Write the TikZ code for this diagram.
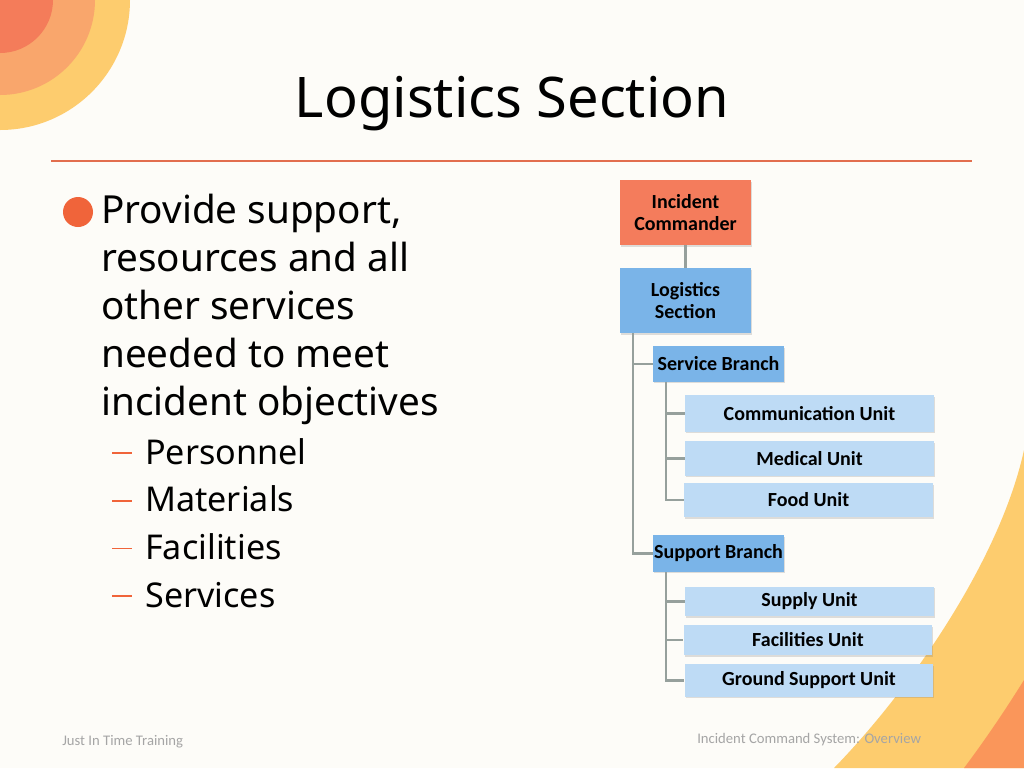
\documentclass[tikz,border=0pt]{standalone}
\usepackage{fontspec}
\setmainfont{Noto Sans}
\newfontfamily\boxfont{Carlito}
\usepackage{xcolor}
\usepackage{tikz}
\usetikzlibrary{positioning,shadows}

\definecolor{paper}{RGB}{253,252,248}
\definecolor{ringin}{RGB}{244,124,90}
\definecolor{ringmid}{RGB}{249,166,108}
\definecolor{ringout}{RGB}{253,204,110}
\definecolor{cornerorange}{RGB}{250,150,90}
\definecolor{rulered}{RGB}{226,110,78}
\definecolor{dotred}{RGB}{240,100,58}
\definecolor{icred}{RGB}{244,124,92}
\definecolor{lsblue}{RGB}{122,180,232}
\definecolor{unitblue}{RGB}{190,219,245}
\definecolor{linkgray}{RGB}{150,160,156}
\definecolor{footgray}{RGB}{165,165,165}

\tikzset{
  orgbox/.style={draw=none, inner sep=0pt, align=center,
    font=\boxfont\bfseries\fontsize{15}{16}\selectfont,
    drop shadow={opacity=0.25, shadow xshift=0.8pt, shadow yshift=-1.2pt}},
  topbox/.style={orgbox, minimum width=98.25pt, minimum height=48.75pt},
  branchbox/.style={orgbox, fill=lsblue, minimum width=98.25pt, minimum height=26.5pt},
  unitbox/.style={orgbox, fill=unitblue, minimum width=186.5pt},
  conn/.style={draw=linkgray, line width=1.8pt},
  bigtext/.style={anchor=base west, inner sep=0pt, font=\fontsize{29}{32}\selectfont},
  subtext/.style={anchor=base west, inner sep=0pt, font=\fontsize{25.6}{30}\selectfont},
  dashmark/.style={anchor=base west, inner sep=0pt, text=dotred, font=\fontsize{25.6}{30}\selectfont},
  foot/.style={anchor=base west, inner sep=0pt, text=footgray, font=\boxfont\fontsize{11}{12}\selectfont}
}

\begin{document}
\begin{tikzpicture}[x=0.75pt,y=-0.75pt]
% page and corner shapes
\fill[paper] (0,0) rectangle (1024,768);
\useasboundingbox (0,0) rectangle (1024,768);
\fill[ringout] (0,0) circle (130);
\fill[ringmid] (0,0) circle (95);
\fill[ringin] (0,0) circle (53);
\fill[ringout] (1024,450) .. controls (1000,560) and (910,690) .. (834,768) -- (1024,768) -- cycle;
\fill[cornerorange] (1024,680) .. controls (1004,712) and (985,740) .. (964,768) -- (1024,768) -- cycle;

% title
\node[anchor=base, inner sep=0pt, font=\fontsize{42}{48}\selectfont] (title) at (512,117) {Logistics Section};
\draw[rulered, line width=1.5pt] (51,161) -- (972,161);

% bullet list
\node[circle, fill=dotred, inner sep=0pt, minimum size=22.5pt] (dot) at (78,212) {};
\foreach \t [count=\i] in {{Provide support,}, {resources and all}, {other services}, {needed to meet}, {incident objectives}}
  \node[bigtext] (line\i) at (101,175+48*\i) {\t};
\foreach \t [count=\i] in {Personnel, Materials, Facilities, Services} {
  \node[dashmark] (dash\i) at (112,416.5+47.7*\i) {\rule[0.3em]{15pt}{1.3pt}};
  \node[subtext] (item\i) at (145,416.5+47.7*\i) {\t};
}

% org chart
\node[topbox, fill=icred] (ic) at (685.5,212.5) {Incident\\Commander};
\node[topbox, fill=lsblue] (ls) at (685.5,300.5) {Logistics\\Section};
\node[branchbox] (svb) at (718.5,364) {Service Branch};
\node[unitbox, minimum height=27.5pt] (com) at (809.5,413.5) {Communication Unit};
\node[unitbox, minimum height=26pt] (med) at (809.5,458.5) {Medical Unit};
\node[unitbox, minimum height=25.5pt] (food) at (808.5,500) {Food Unit};
\node[branchbox, minimum height=27.5pt] (spb) at (718.5,553.5) {Support Branch};
\node[unitbox, minimum height=22pt] (sup) at (809.5,601.5) {Supply Unit};
\node[unitbox, minimum height=22.5pt] (fac) at (808,640) {Facilities Unit};
\node[unitbox, minimum height=24.5pt] (gnd) at (809,680.5) {Ground Support Unit};

\draw[conn] (ic) -- (ls);
\draw[conn] ([xshift=9.75pt]ls.south west) |- (svb.west);
\draw[conn] ([xshift=9.75pt]ls.south west) |- (spb.west);
\foreach \u in {com,med,food}
  \draw[conn] ([xshift=9.75pt]svb.south west) |- (\u.west);
\foreach \u in {sup,fac,gnd}
  \draw[conn] ([xshift=9.75pt]spb.south west) |- (\u.west);

% footer
\node[foot] (footl) at (62,745) {Just In Time Training};
\node[foot] (footr) at (697,743) {Incident Command System: Overview};
\end{tikzpicture}
\end{document}
